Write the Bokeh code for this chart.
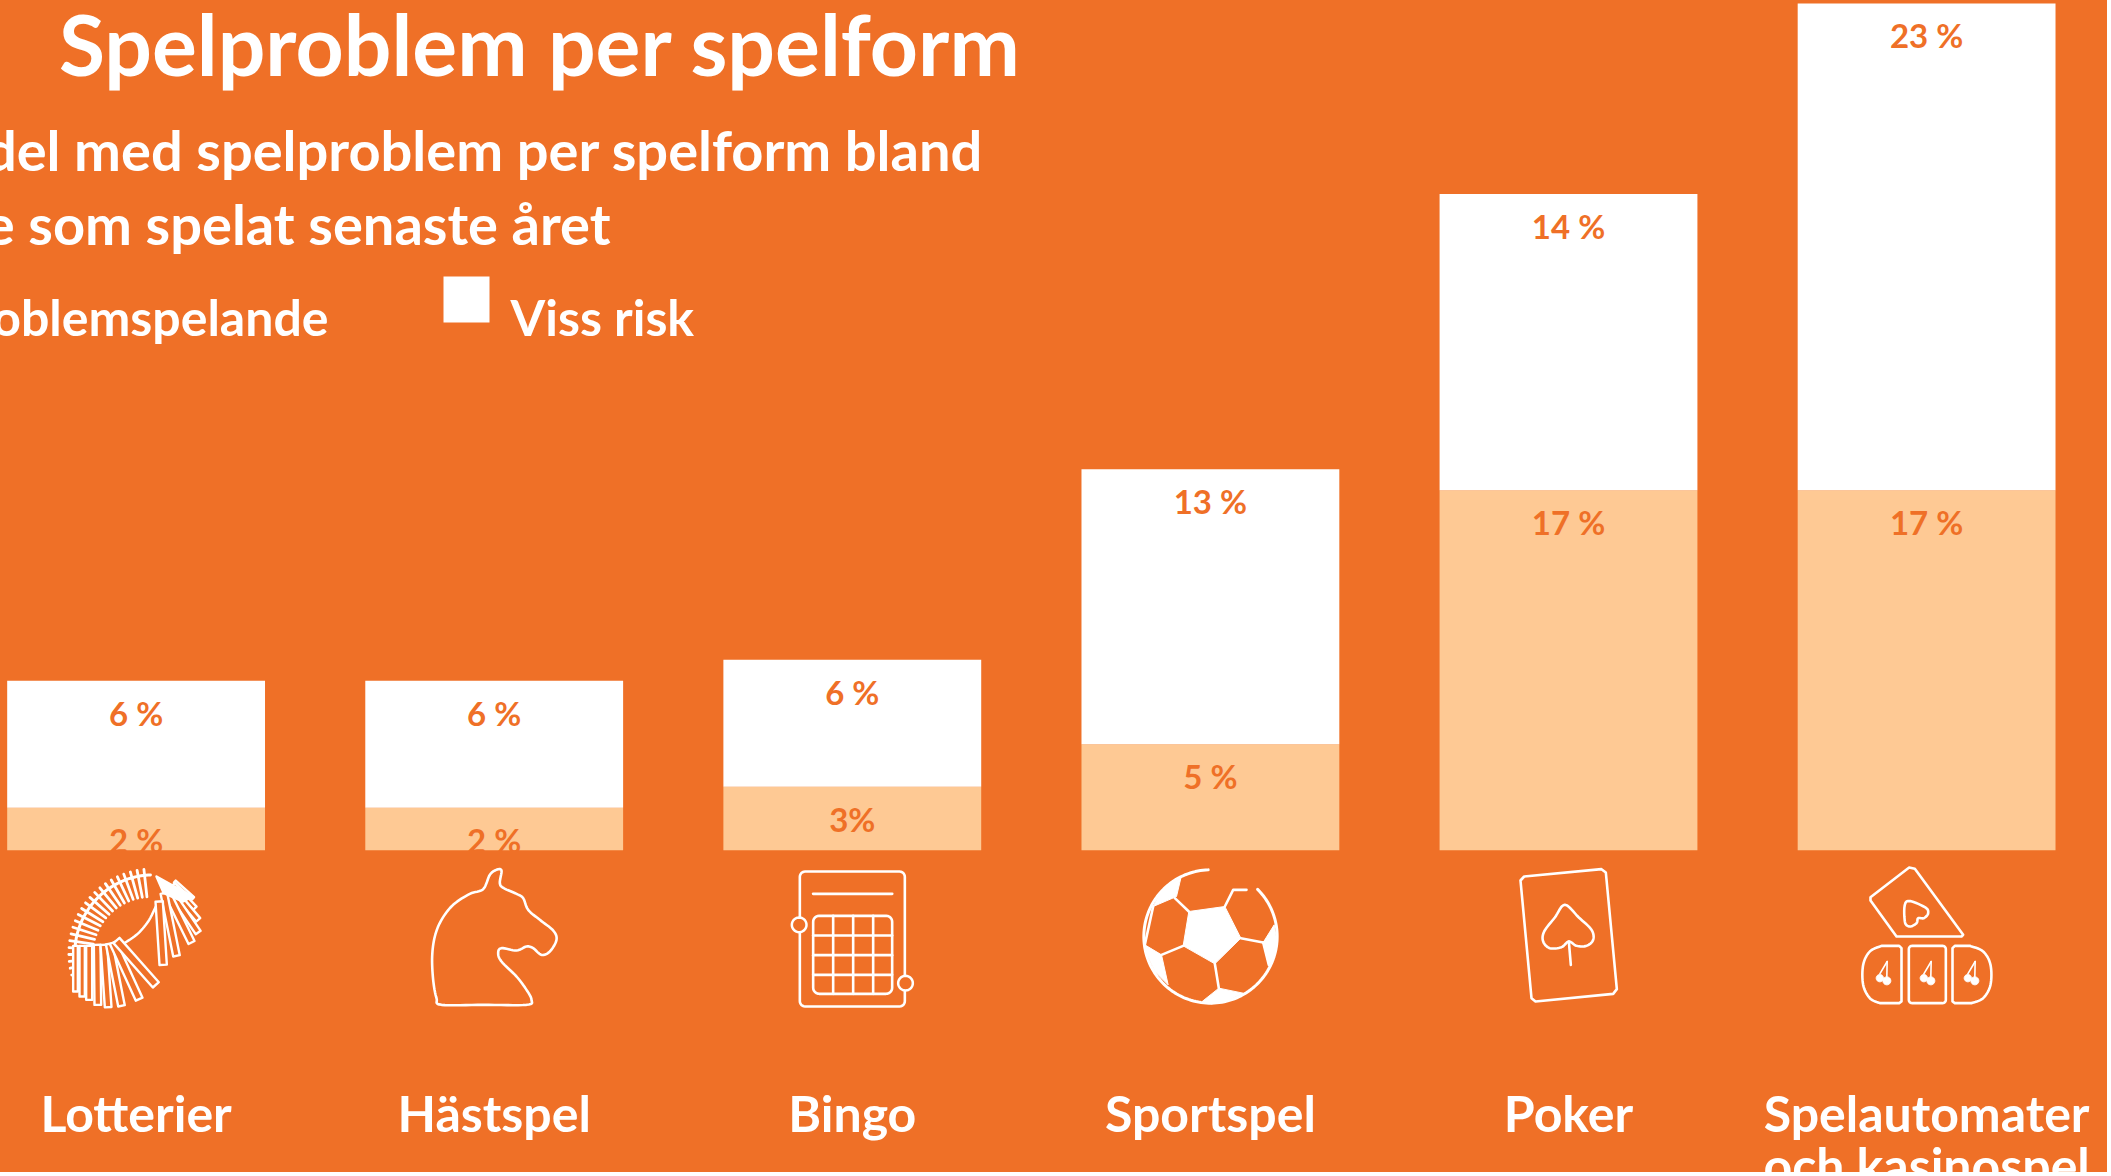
import math
from bokeh.core.properties import value
from bokeh.embed import file_html
from bokeh.models import ColumnDataSource, Range1d
from bokeh.plotting import figure
from bokeh.resources import INLINE

categories = ["Lotterier", "Hästspel", "Bingo", "Sportspel", "Poker", "Spelautomater\noch kasinospel"]
problem = [2, 2, 3, 5, 17, 17]
risk = [6, 6, 6, 13, 14, 23]
problem_labels = ["2 %", "2 %", "3%", "5 %", "17 %", "17 %"]
risk_labels = ["6 %", "6 %", "6 %", "13 %", "14 %", "23 %"]
title_text = "Spelproblem per spelform"
subtitle_lines = ["Andel med spelproblem per spelform bland", "de som spelat senaste året"]
legend_names = ["Problemspelande", "Viss risk"]

ORANGE = "#EF7027"
PEACH = "#FEC994"
WHITE = "#FFFFFF"
FONT = value("Lato")
W, H = 2111, 1176
STEP, X0 = 358.1, 139.6
PX_PER_PCT, BASE = 21.17, 853.7

p = figure(width=W, height=H, output_backend="svg", toolbar_location=None,
           x_axis_location=None, y_axis_location=None, min_border=0,
           margin=(-4, -4, -4, -4),
           x_range=Range1d(-X0 / STEP, (W - X0) / STEP),
           y_range=Range1d((BASE - H) / PX_PER_PCT, BASE / PX_PER_PCT),
           background_fill_color=ORANGE, border_fill_color=ORANGE)
p.grid.visible = False
p.outline_line_color = None
p.extra_x_ranges = {"px": Range1d(0, W)}
p.extra_y_ranges = {"px": Range1d(H, 0)}

idx = list(range(len(categories)))
src = ColumnDataSource(dict(
    x=idx, problem=problem, total=[a + b for a, b in zip(problem, risk)], zero=[0] * 6,
    pl=problem_labels, rl=risk_labels))
p.vbar(x="x", bottom="zero", top="problem", width=0.72, source=src, fill_color=PEACH, line_color=None)
p.vbar(x="x", bottom="problem", top="total", width=0.72, source=src, fill_color=WHITE, line_color=None)
for y_col, t_col in (("problem", "pl"), ("total", "rl")):
    p.text(x="x", y=y_col, text=t_col, source=src, text_align="center", text_baseline="alphabetic",
           y_offset=32, text_font=FONT, text_font_style="bold", text_font_size="33px", text_color=ORANGE)

# category names
cx, cy, ct = [], [], []
for i, c in enumerate(categories):
    for j, line in enumerate(c.split("\n")):
        cx.append(i); cy.append(1116 + 52 * j); ct.append(line)
p.text(x=cx, y=cy, text=ct, y_range_name="px", text_align="center", text_baseline="alphabetic",
       text_font=FONT, text_font_style="bold", text_font_size="50px", text_color=WHITE)

def label(x, y, t, size, align="left"):
    p.text(x=[x], y=[y], text=[t], x_range_name="px", y_range_name="px", text_align=align,
           text_baseline="alphabetic", text_font=FONT, text_font_style="bold",
           text_font_size=size, text_color=WHITE)

label(1025, 47, title_text, "84px", "right")
label(987, 153, subtitle_lines[0], "56px", "right")
label(614, 227, subtitle_lines[1], "56px", "right")
label(332, 320, legend_names[0], "50px", "right")
label(514, 320, legend_names[1], "50px")
p.quad(left=[-134, 447], right=[-88, 493], top=[280, 280], bottom=[326, 326],
       x_range_name="px", y_range_name="px", fill_color=[PEACH, WHITE], line_color=None)

# ---- pictograms, outlined in screen pixels ----
def smooth(pts, closed=False, n=8):
    out = []
    m = len(pts)
    rng = range(m) if closed else range(m - 1)
    for i in rng:
        if closed:
            a, b, c, d = pts[(i - 1) % m], pts[i], pts[(i + 1) % m], pts[(i + 2) % m]
        else:
            a, b, c, d = pts[max(i - 1, 0)], pts[i], pts[i + 1], pts[min(i + 2, m - 1)]
        for k in range(n):
            t = k / n
            out.append(tuple(0.5 * (2 * b[q] + (c[q] - a[q]) * t + (2 * a[q] - 5 * b[q] + 4 * c[q] - d[q]) * t ** 2
                                    + (3 * b[q] - a[q] - 3 * c[q] + d[q]) * t ** 3) for q in (0, 1)))
    if not closed:
        out.append(pts[-1])
    return out

def rrect(x0, y0, x1, y1, r):
    pts = []
    for cx_, cy_, a0 in ((x1 - r, y0 + r, -90), (x1 - r, y1 - r, 0), (x0 + r, y1 - r, 90), (x0 + r, y0 + r, 180)):
        for k in range(7):
            a = math.radians(a0 + 15 * k)
            pts.append((cx_ + r * math.cos(a), cy_ + r * math.sin(a)))
    return pts

def arc(c, r, a0, a1, n=60):
    return [(c[0] + r * math.cos(math.radians(a0 + (a1 - a0) * k / n)),
             c[1] - r * math.sin(math.radians(a0 + (a1 - a0) * k / n))) for k in range(n + 1)]

def stroke(o, pts, w=2.5, closed=False, fill=None):
    xs = [o[0] + q[0] / 3 for q in pts]
    ys = [o[1] + q[1] / 3 for q in pts]
    if closed or fill:
        p.patch(xs, ys, x_range_name="px", y_range_name="px", fill_color=fill or ORANGE,
                line_color=WHITE, line_width=w, line_join="round")
    else:
        p.line(xs, ys, x_range_name="px", y_range_name="px", line_color=WHITE, line_width=w,
               line_join="round", line_cap="round")

def dot(o, c, r, fill=WHITE, w=2.5):
    stroke(o, arc(c, r, 0, 360, 32), w, True, fill)

def ticket(o, a, b, wd):
    dx, dy = b[0] - a[0], b[1] - a[1]
    L = math.hypot(dx, dy)
    nx, ny = -dy / L * wd / 2, dx / L * wd / 2
    stroke(o, [(a[0] + nx, a[1] + ny), (b[0] + nx, b[1] + ny), (b[0] - nx, b[1] - ny), (a[0] - nx, a[1] - ny)], 2.4, True)

# lottery tickets
o = (60, 860)
c0 = (290, 290)
for ang in [195 - 4.7 * k for k in range(22)]:
    t = (195 - ang) / 99
    ri = 185 - 15 * t
    a_ = arc(c0, 253, ang, ang, 1)[0]
    b_ = arc(c0, ri, ang, ang, 1)[0]
    stroke(o, [a_, b_], 2.8)
stroke(o, arc(c0, 235, 195, 92), 3)
stroke(o, smooth([(195, 265), (240, 235), (275, 195), (298, 150)]), 2.5)
for a_, b_, wd in [((355, 75), (410, 125), 8), ((350, 85), (415, 155), 14), ((345, 95), (425, 190), 16),
                   ((338, 100), (425, 228), 18), ((330, 105), (405, 258), 20), ((322, 110), (360, 298), 20),
                   ((308, 135), (320, 325), 22)]:
    ticket(o, a_, b_, wd)
stroke(o, [(300, 60), (408, 120), (380, 135), (322, 110)], 2.5, True, WHITE)
for a_, b_, wd in [((57, 268), (57, 405), 14), ((77, 268), (77, 420), 16), ((98, 268), (98, 430), 18),
                   ((122, 265), (124, 445), 20), ((142, 265), (155, 452), 20), ((158, 262), (195, 448), 20),
                   ((170, 258), (248, 428), 22), ((180, 252), (298, 385), 24)]:
    ticket(o, a_, b_, wd)

# horse
o = (420, 860)
stroke(o, smooth([(75, 445), (200, 445), (330, 445), (345, 430), (330, 400), (300, 360), (255, 315), (245, 290), (255, 275),
                  (300, 282), (330, 270), (350, 275), (375, 295), (400, 285), (420, 250), (410, 222), (370, 190),
                  (335, 160), (320, 125), (300, 112), (262, 95), (250, 80), (255, 42), (240, 40), (220, 55), (200, 98),
                  (160, 112), (110, 145), (75, 190), (55, 240), (47, 300), (50, 370), (60, 425)], closed=True), 2.6, True)

# bingo card
o = (780, 860)
stroke(o, rrect(70, 45, 385, 450, 16), 2.6, True)
stroke(o, [(110, 112), (347, 112)], 2.8)
stroke(o, rrect(110, 178, 347, 412, 18), 2.6, True)
for gx in (170, 230, 290):
    stroke(o, [(gx, 178), (gx, 412)], 2.6)
for gy in (237, 296, 355):
    stroke(o, [(110, gy), (347, gy)], 2.6)
dot(o, (68, 205), 22, ORANGE)
dot(o, (387, 380), 22, ORANGE)

# football
o = (1135, 860)
stroke(o, arc((237, 240), 200, 45, -268, 140), 3)
for poly in ([(172, 165), (280, 150), (328, 245), (250, 322), (155, 268)],
             [(148, 65), (135, 120), (65, 150), (85, 110), (115, 82)],
             [(395, 258), (428, 205), (437, 260), (425, 310), (412, 325)],
             [(262, 395), (335, 410), (290, 432), (240, 442), (212, 435)],
             [(90, 295), (110, 385), (70, 345), (45, 290), (40, 265)]):
    stroke(o, poly, 1, True, WHITE)
for ln in ([(172, 165), (130, 125)], [(280, 150), (305, 100), (345, 100)], [(328, 245), (395, 258)],
           [(250, 322), (262, 395)], [(155, 268), (90, 295)], [(65, 150), (40, 265)], [(412, 325), (395, 258)]):
    stroke(o, ln, 2.6)

# playing card
o = (1495, 860)
stroke(o, [(98, 60), (330, 38), (343, 48), (376, 398), (365, 412), (132, 435), (120, 425), (87, 72)], 2.6, True)
stroke(o, smooth([(220, 145), (262, 183), (300, 220), (305, 250), (285, 268), (255, 268), (232, 255), (210, 272), (175, 275),
                  (155, 255), (158, 225), (190, 183)], closed=True), 2.6, True)
stroke(o, [(232, 255), (238, 325)], 2.6)

# slot machine
o = (1850, 860)
stroke(o, [(188, 33), (205, 37), (350, 235), (345, 240), (150, 240), (72, 132), (72, 122)], 2.6, True)
stroke(o, smooth([(180, 135), (235, 152), (245, 170), (232, 185), (215, 185), (210, 200), (190, 210), (175, 195)], closed=True), 2.6, True)
stroke(o, [(158, 268), (165, 275), (165, 435), (158, 440)] + smooth([(100, 440), (70, 425), (50, 385), (50, 325), (70, 285), (105, 268)]), 2.6, True)
stroke(o, rrect(187, 268, 298, 440, 10), 2.6, True)
stroke(o, [(318, 275), (325, 268)] + smooth([(370, 268), (410, 285), (432, 325), (432, 385), (410, 425), (375, 440)]) + [(325, 440), (318, 435)], 2.6, True)
for dx_ in (0, 132, 264):
    dot(o, (100 + dx_, 365), 11, WHITE, 1)
    dot(o, (121 + dx_, 373), 12, WHITE, 1)
    stroke(o, [(100 + dx_, 352), (122 + dx_, 315)], 1.6)
    stroke(o, [(121 + dx_, 360), (122 + dx_, 315)], 1.6)

open("out.html", "w").write(file_html(p, INLINE))
